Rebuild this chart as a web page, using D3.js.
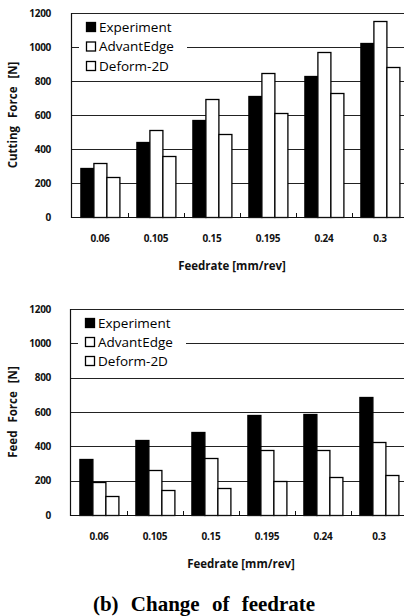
<!DOCTYPE html>
<html>
<head>
<meta charset="utf-8">
<script src="https://cdn.jsdelivr.net/npm/d3@7/dist/d3.min.js"></script>
<style>
  html, body { margin: 0; padding: 0; background: #fff; }
  svg { display: block; }
</style>
</head>
<body>
<svg id="chart" width="404" height="616"></svg>
<script>
// ---- data ----
const categories = ["0.06", "0.105", "0.15", "0.195", "0.24", "0.3"];
const seriesNames = ["Experiment", "AdvantEdge", "Deform-2D"];
const cuttingExperiment = [290, 440, 570, 710, 830, 1025];
const cuttingAdvantEdge = [315, 510, 695, 845, 970, 1150];
const cuttingDeform = [235, 360, 490, 610, 730, 880];
const feedExperiment = [325, 435, 485, 580, 590, 690];
const feedAdvantEdge = [195, 265, 330, 380, 380, 425];
const feedDeform = [110, 145, 160, 200, 220, 235];
const yTicks = [0, 200, 400, 600, 800, 1000, 1200];
const xTitle = "Feedrate [mm/rev]";
const caption = "(b) Change of feedrate";

const svg = d3.select("#chart");
const seriesFill = ["#000", "#fff", "#fff"];
const FONT = "Open Sans";

function drawChart(opt) {
  const g = svg.append("g");
  const x0 = d3.scaleBand().domain(categories).range([opt.left, opt.right])
    .paddingInner(0.3).paddingOuter(0.15);
  const x1 = d3.scaleBand().domain(seriesNames).range([0, x0.bandwidth()]);
  const y = d3.scaleLinear().domain([0, 1200]).range([opt.bottom, opt.top]);
  const step = x0.step();

  // gridlines
  g.append("g").selectAll("line").data(yTicks.filter(d => d > 0)).join("line")
    .attr("x1", opt.left).attr("x2", 404)
    .attr("y1", d => Math.round(y(d)) + 0.5).attr("y2", d => Math.round(y(d)) + 0.5)
    .attr("stroke", "#222").attr("stroke-width", 1);

  // legend background (covers gridline)
  g.append("rect").attr("x", opt.left + 7).attr("y", opt.legendTop - 12)
    .attr("width", 108).attr("height", 58).attr("fill", "#fff");

  // bars
  const rows = categories.map((c, i) => ({ c, vals: opt.data.map(s => s[i]) }));
  g.append("g").selectAll("g").data(rows).join("g")
    .attr("transform", d => `translate(${x0(d.c)},0)`)
    .selectAll("rect").data(d => d.vals.map((v, j) => ({ v, s: seriesNames[j], j })))
    .join("rect")
    .attr("x", d => Math.round(x1(d.s)) + 0.5)
    .attr("y", d => Math.round(y(d.v)) + 0.5)
    .attr("width", Math.round(x1.bandwidth()))
    .attr("height", d => Math.round(y(0)) - Math.round(y(d.v)))
    .attr("fill", d => seriesFill[d.j])
    .attr("stroke", "#000").attr("stroke-width", 1.3);

  // axes lines
  g.append("line").attr("x1", opt.left - 0.5).attr("x2", opt.left - 0.5)
    .attr("y1", y(1200)).attr("y2", y(0) + 1).attr("stroke", "#111").attr("stroke-width", 1.2);
  g.append("line").attr("x1", opt.left).attr("x2", 404)
    .attr("y1", Math.round(y(0)) + 0.5).attr("y2", Math.round(y(0)) + 0.5)
    .attr("stroke", "#111").attr("stroke-width", 1.2);
  // category boundary ticks
  g.append("g").selectAll("line").data(categories.slice(1)).join("line")
    .attr("x1", d => Math.round(x0(d) - step * 0.15) + 0.5)
    .attr("x2", d => Math.round(x0(d) - step * 0.15) + 0.5)
    .attr("y1", y(0)).attr("y2", y(0) - 4)
    .attr("stroke", "#111").attr("stroke-width", 1);

  // y tick labels
  g.append("g").selectAll("text").data(yTicks).join("text")
    .attr("x", 51).attr("y", d => y(d)).attr("dy", "0.35em")
    .attr("text-anchor", "end")
    .attr("font-family", FONT).attr("font-weight", 700).attr("font-size", 10)
    .attr("letter-spacing", -0.3)
    .attr("fill", "#111").text(d => d);

  // x tick labels
  g.append("g").selectAll("text").data(categories).join("text")
    .attr("x", d => x0(d) + x0.bandwidth() / 2).attr("y", opt.bottom + 21).attr("dy", "0.35em")
    .attr("text-anchor", "middle")
    .attr("font-family", FONT).attr("font-weight", 700).attr("font-size", 10)
    .attr("letter-spacing", -0.2)
    .attr("fill", "#111").text(d => d);

  // x title
  g.append("text").attr("x", opt.xTitleX).attr("y", opt.bottom + 49).attr("dy", "0.35em")
    .attr("text-anchor", "middle")
    .attr("font-family", FONT).attr("font-weight", 700).attr("font-size", 11.5)
    .attr("fill", "#111").text(xTitle);

  // y title
  g.append("text")
    .attr("transform", `translate(13,${(opt.top + opt.bottom) / 2}) rotate(-90)`)
    .attr("dy", "0.35em").attr("text-anchor", "middle")
    .attr("font-family", FONT).attr("font-weight", 700).attr("font-size", 11.5)
    .attr("word-spacing", 5)
    .attr("fill", "#111").text(opt.yTitle);

  // legend
  const lg = g.append("g").selectAll("g").data(seriesNames).join("g")
    .attr("transform", (d, i) => `translate(${opt.left + 14},${opt.legendTop + i * opt.legendStep})`);
  lg.append("rect").attr("x", 0.5).attr("y", -4.5).attr("width", 9).attr("height", 9)
    .attr("fill", (d, i) => seriesFill[i]).attr("stroke", "#000").attr("stroke-width", 1.3);
  lg.append("text").attr("x", 13).attr("y", 0).attr("dy", "0.35em")
    .attr("font-family", FONT).attr("font-weight", 500).attr("font-size", 13.5)
    .attr("fill", "#000").text(d => d);
}

drawChart({
  left: 72, right: 408, top: 13, bottom: 217,
  data: [cuttingExperiment, cuttingAdvantEdge, cuttingDeform],
  yTitle: "Cutting Force [N]", xTitleX: 232, legendTop: 27, legendStep: 19.5
});
drawChart({
  left: 71, right: 407, top: 309, bottom: 515,
  data: [feedExperiment, feedAdvantEdge, feedDeform],
  yTitle: "Feed Force [N]", xTitleX: 241, legendTop: 323, legendStep: 19
});

svg.append("text").attr("x", 204).attr("y", 604).attr("dy", "0.35em")
  .attr("text-anchor", "middle")
  .attr("font-family", "Liberation Serif").attr("font-weight", 700).attr("font-size", 21)
  .attr("word-spacing", 7)
  .attr("fill", "#000").text(caption);
</script>
</body>
</html>
